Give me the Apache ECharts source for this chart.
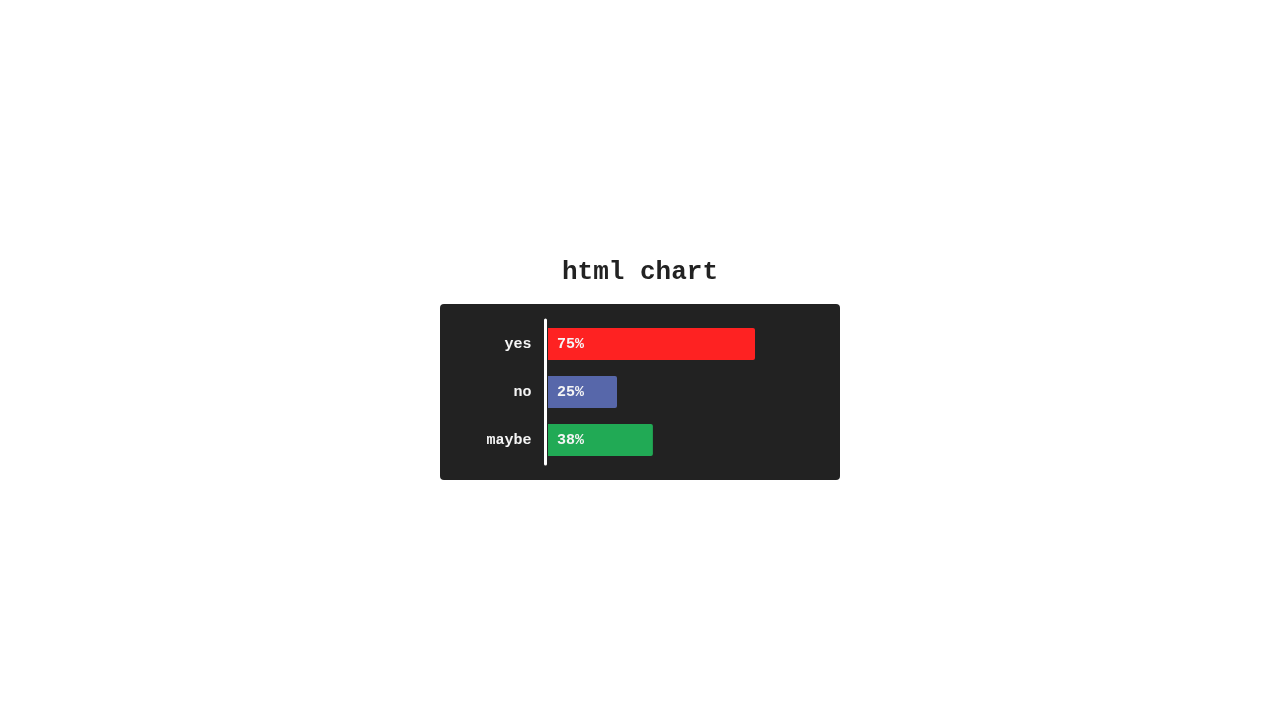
<!DOCTYPE html>
<html>
<head>
<meta charset="utf-8">
<script src="https://cdn.jsdelivr.net/npm/echarts@6/dist/echarts.min.js"></script>
<style>
html,body{margin:0;padding:0;background:#fff;}
#chart{width:1280px;height:720px;}
</style>
</head>
<body>
<div id="chart"></div>
<script>
var categories = ['yes', 'no', 'maybe'];
var values = [75, 25, 38];
var barColors = ['#fe2222', '#5767aa', '#21aa55'];
var titleText = 'html chart';

var FONT = '"Courier New", "Liberation Mono", monospace';
var chart = echarts.init(document.getElementById('chart'));
chart.setOption({
  backgroundColor: '#fff',
  animation: false,
  title: {
    text: titleText,
    left: 'center',
    top: 259,
    padding: 0,
    textStyle: { fontFamily: FONT, fontWeight: 'bold', fontSize: 26, color: '#222' }
  },
  graphic: [{
    type: 'rect',
    z: -10,
    shape: { x: 440, y: 304, width: 400, height: 176, r: 4 },
    style: { fill: '#222222' }
  }],
  grid: { left: 548, top: 320, width: 276, height: 144, containLabel: false },
  xAxis: {
    type: 'value', min: 0, max: 100,
    show: false
  },
  yAxis: {
    type: 'category',
    data: categories,
    inverse: true,
    offset: 2.5,
    z: 5,
    axisLine: { show: true, onZero: false, lineStyle: { color: '#ffffff', width: 3, cap: 'round' } },
    axisTick: { show: false },
    axisLabel: {
      margin: 14,
      color: '#f5f5f5',
      fontFamily: FONT,
      fontWeight: 'bold',
      fontSize: 15
    }
  },
  series: [{
    type: 'bar',
    data: values.map(function (v, i) { return { value: v, itemStyle: { color: barColors[i] } }; }),
    barWidth: 32,
    itemStyle: { borderRadius: [0, 2, 2, 0] },
    label: {
      show: true,
      position: 'insideLeft',
      distance: 9,
      formatter: '{c}%',
      color: '#f5f5f5',
      fontFamily: FONT,
      fontWeight: 'bold',
      fontSize: 15
    }
  }]
});
</script>
</body>
</html>
